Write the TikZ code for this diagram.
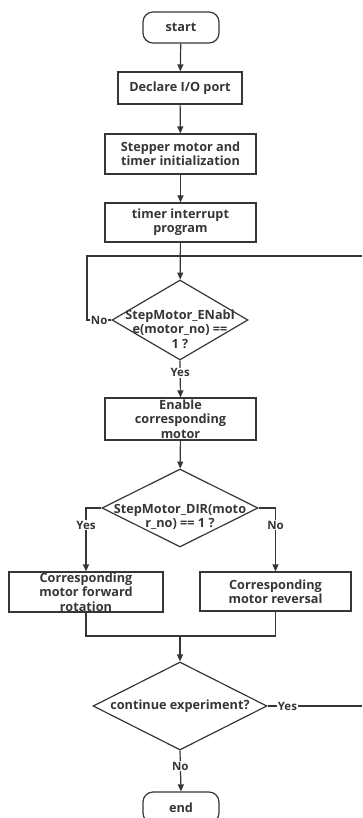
\documentclass[tikz,border=0pt]{standalone}
\usepackage{fontspec}
\setmainfont{Open Sans}
\usetikzlibrary{arrows.meta,shapes.geometric}
\definecolor{lc}{HTML}{363636}
\begin{document}
\begin{tikzpicture}[x=1pt,y=-1pt,
  every node/.style={text=lc, font=\bfseries\fontsize{12.7}{14.3}\selectfont, align=center},
  proc/.style={draw=lc, line width=1.2pt, inner sep=0pt},
  term/.style={draw=lc, line width=1.2pt, rounded corners=10pt, minimum width=76pt, minimum height=31pt, inner sep=0pt},
  dia/.style={draw=lc, line width=1.2pt, diamond, inner sep=0pt},
  conn/.style={draw=lc, line width=1.2pt},
  arr/.style={conn, -{Triangle[length=7pt,width=6pt]}},
  lbl/.style={fill=white, inner sep=1pt, font=\bfseries\fontsize{11.5}{13}\selectfont}]
\useasboundingbox (0,0) rectangle (362,818);

\node[term] (start) at (181,27.5) {start};
\node[proc, minimum width=124pt, minimum height=32pt] (decl) at (180,88) {Declare I/O port};
\node[proc, minimum width=151pt, minimum height=40pt] (init) at (180.5,154) {Stepper motor and\\timer initialization};
\node[proc, minimum width=151pt, minimum height=39pt] (tint) at (180.5,222.5) {timer interrupt\\program};
\node[dia, minimum width=136pt, minimum height=80pt] (d1) at (180,320) {};
\node (d1t) at (180,329) {StepMotor\_ENabl\\e(motor\_no) ==\\1 ?};
\node[proc, minimum width=151pt, minimum height=42pt] (en) at (180.5,419) {Enable\\corresponding\\motor};
\node[dia, minimum width=156pt, minimum height=78pt] (d2) at (180,508) {};
\node (d2t) at (180,517) {StepMotor\_DIR(moto\\r\_no) == 1 ?};
\node[proc, minimum width=154pt, minimum height=40pt] (fwd) at (86,592) {Corresponding\\motor forward\\rotation};
\node[proc, minimum width=151pt, minimum height=39pt] (rev) at (275.5,591.5) {Corresponding\\motor reversal};
\node[dia, minimum width=174pt, minimum height=88pt] (d3) at (180,706) {};
\node (d3t) at (180,706) {continue experiment?};
\node[term] (end) at (181,807.5) {end};

\coordinate (noL) at (87,320);
\coordinate (topL) at (87,256);
\coordinate (topR) at (362,256);
\coordinate (yesR) at (362,706);
\coordinate (l2) at (86,508);
\coordinate (r2) at (275.5,508);
\coordinate (mL) at (86,636);
\coordinate (mR) at (275.5,636);
\coordinate (mC) at (180,636);

\draw[arr] (start) -- (decl);
\draw[arr] (decl) -- (init);
\draw[arr] (init) -- (tint);
\draw[arr] (tint) -- (d1);
\draw[conn] (d1.west) -- node[lbl]{No} (noL) -- (topL) -- (topR);
\draw[arr] (d1.south) -- node[lbl, pos=0.33]{Yes} (en.north);
\draw[arr] (en) -- (d2);
\draw[arr] (d2.west) -- (l2) -- node[lbl, pos=0.27]{Yes} (fwd.north);
\draw[arr] (d2.east) -- (r2) -- node[lbl, pos=0.27]{No} (rev.north);
\draw[conn] (fwd.south) -- (mL) -- (mR) -- (rev.south);
\draw[arr] (mC) -- (d3.north);
\draw[conn] (d3.east) -- node[lbl, pos=0.21]{Yes} (yesR);
\draw[arr] (d3.south) -- node[lbl, pos=0.38]{No} (end.north);
\end{tikzpicture}
\end{document}
